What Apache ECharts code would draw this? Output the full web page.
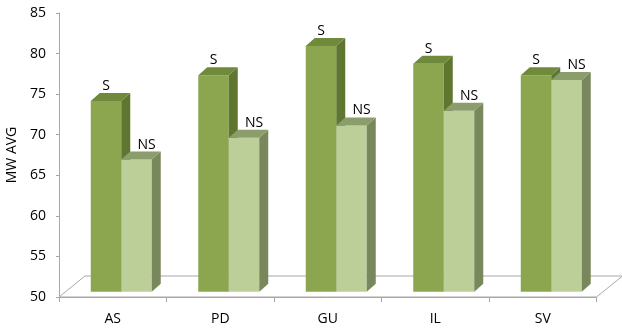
<!DOCTYPE html>
<html><head><meta charset="utf-8">
<script src="https://cdn.jsdelivr.net/npm/echarts@6/dist/echarts.min.js"></script>
<style>html,body{margin:0;padding:0;background:#fff}#c{width:622px;height:329px}</style>
</head><body><div id="c"></div>
<script>
const categories = ['AS', 'PD', 'GU', 'IL', 'SV'];
const sValues = [73.5, 76.7, 80.3, 78.1, 76.7];
const nsValues = [66.3, 69.0, 70.5, 72.3, 76.1];
const seriesNames = ['S', 'NS'];
const yMin = 50, yMax = 85, yStep = 5;

const FONT = 'Open Sans';
const palette = [
  { front: '#8ba64f', side: '#5f7630', top: '#6f8a3b' },
  { front: '#bccf99', side: '#78875c', top: '#8c9d6c' }
];

function barRenderer(kind) {
  return function (params, api) {
    const ci = api.value(0), v = api.value(1);
    const topPt = api.coord([ci, v]);
    const basePt = api.coord([ci, yMin]);
    const band = api.size([1, 0])[0];
    const k = band / 107.5;
    const cx = topPt[0];
    const w = 30.5 * k;
    const left = kind === 0 ? cx - 22 * k : cx + 8.5 * k;
    const shiftY = -5.2, ddx = 9, ddy = -8;
    const yTop = topPt[1] + shiftY, yBot = basePt[1] + shiftY;
    const c = palette[kind];
    const r = left + w;
    return {
      type: 'group',
      children: [
        { type: 'rect', shape: { x: left, y: yTop, width: w, height: yBot - yTop }, style: { fill: c.front } },
        { type: 'polygon', shape: { points: [[r, yTop], [r + ddx, yTop + ddy], [r + ddx, yBot + ddy], [r, yBot]] }, style: { fill: c.side } },
        { type: 'polygon', shape: { points: [[left, yTop], [left + ddx, yTop + ddy], [r + ddx, yTop + ddy], [r, yTop]] }, style: { fill: c.top } },
        { type: 'text', x: left + w / 2 + (kind === 0 ? 0 : 10), y: yTop - 15,
          style: { text: seriesNames[kind], fill: '#000', font: '14px "' + FONT + '"', align: 'center', verticalAlign: 'middle' } }
      ]
    };
  };
}

function floorRenderer(params, api) {
  const cs = params.coordSys;
  const x0 = cs.x, x1 = cs.x + cs.width, yb = cs.y + cs.height;
  const fdx = 26, fdy = -21;
  return {
    type: 'group',
    children: [
      { type: 'polygon', shape: { points: [[x0, yb], [x0 + fdx, yb + fdy], [x1 + fdx, yb + fdy], [x1, yb]] }, style: { fill: '#fff', stroke: '#a8a8a8', lineWidth: 1 } }
    ]
  };
}

const chart = echarts.init(document.getElementById('c'), null, { renderer: 'canvas' });
chart.setOption({
  animation: false,
  backgroundColor: '#fff',
  textStyle: { fontFamily: FONT },
  grid: { left: 59, right: 25.5, top: 13, bottom: 32, containLabel: false, outerBoundsMode: 'none' },
  xAxis: {
    type: 'category',
    data: categories,
    boundaryGap: true,
    axisLine: { show: true, lineStyle: { color: '#a6a6a6', width: 1 } },
    axisTick: { show: true, length: 5, lineStyle: { color: '#a6a6a6' } },
    axisLabel: { color: '#000', fontSize: 14, margin: 15, fontFamily: FONT },
    splitLine: { show: false }
  },
  yAxis: {
    type: 'value',
    min: yMin, max: yMax, interval: yStep,
    name: 'MW AVG',
    nameLocation: 'middle',
    nameGap: 38,
    nameTextStyle: { color: '#000', fontSize: 14, fontFamily: FONT },
    axisLine: { show: true, lineStyle: { color: '#a6a6a6', width: 1 } },
    axisTick: { show: true, length: 3, lineStyle: { color: '#a6a6a6' } },
    axisLabel: { color: '#000', fontSize: 14, margin: 13, fontFamily: FONT },
    splitLine: { show: false }
  },
  series: [
    { type: 'custom', name: 'floor', z: 1, renderItem: floorRenderer, data: [[0, yMin]], silent: true },
    { type: 'custom', name: 'S', z: 2, renderItem: barRenderer(0), data: sValues.map((v, i) => [i, v]), encode: { x: 0, y: 1 } },
    { type: 'custom', name: 'NS', z: 3, renderItem: barRenderer(1), data: nsValues.map((v, i) => [i, v]), encode: { x: 0, y: 1 } }
  ]
});
</script>
</body></html>
